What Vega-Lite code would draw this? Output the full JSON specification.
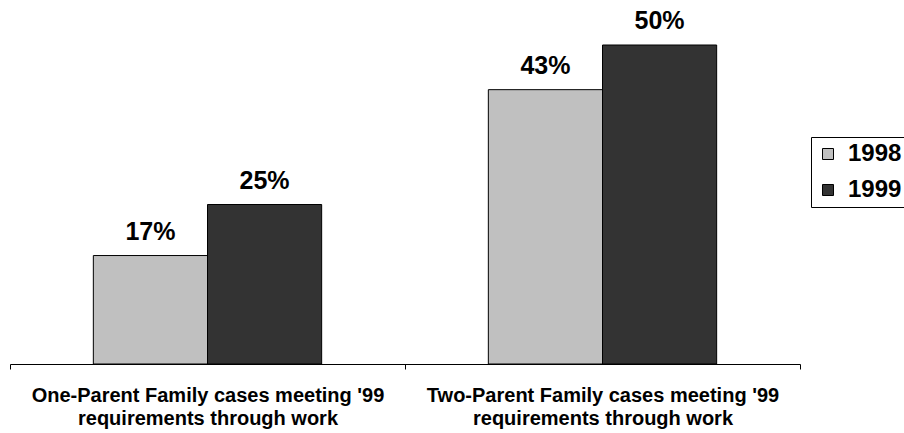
{
  "$schema": "https://vega.github.io/schema/vega-lite/v6.json",
  "autosize": {"type": "none"},
  "width": 790,
  "height": 319,
  "padding": {"left": 10, "top": 45, "right": 104, "bottom": 69},
  "background": "white",
  "config": {
    "view": {"stroke": null},
    "font": "Liberation Sans"
  },
  "data": {
    "values": [
      {"group": "One-Parent", "year": "1998", "value": 0.17},
      {"group": "One-Parent", "year": "1999", "value": 0.25},
      {"group": "Two-Parent", "year": "1998", "value": 0.43},
      {"group": "Two-Parent", "year": "1999", "value": 0.50}
    ]
  },
  "encoding": {
    "x": {
      "field": "group",
      "type": "nominal",
      "scale": {"paddingInner": 0, "paddingOuter": 0},
      "axis": {
        "title": null,
        "labelAngle": 0,
        "domainColor": "black",
        "domainWidth": 1,
        "tickColor": "black",
        "tickSize": 5,
        "tickBand": "extent",
        "labelPadding": 16,
        "labelFontSize": 20,
        "labelFontWeight": "bold",
        "labelColor": "black",
        "labelLineHeight": 23,
        "labelLimit": 0,
        "labelExpr": "(datum.value == null || datum.label == '') ? '' : [datum.label + \" Family cases meeting '99\", \"requirements through work\"]"
      }
    },
    "xOffset": {
      "field": "year",
      "type": "nominal",
      "scale": {"paddingInner": 0, "paddingOuter": 0.73}
    },
    "y": {
      "field": "value",
      "type": "quantitative",
      "scale": {"domain": [0, 0.5], "nice": false},
      "axis": null
    }
  },
  "layer": [
    {
      "mark": {"type": "bar", "stroke": "black", "strokeWidth": 1},
      "encoding": {
        "color": {
          "field": "year",
          "type": "nominal",
          "scale": {"domain": ["1998", "1999"], "range": ["#C0C0C0", "#333333"]},
          "legend": {
            "title": null,
            "orient": "none",
            "legendX": 801,
            "legendY": 92,
            "direction": "vertical",
            "symbolType": "square",
            "symbolSize": 121,
            "symbolStrokeColor": "black",
            "symbolStrokeWidth": 1,
            "symbolOpacity": 1,
            "labelFontSize": 24,
            "labelFontWeight": "bold",
            "labelColor": "black",
            "labelOffset": 8,
            "rowPadding": 12,
            "padding": 5,
            "strokeColor": "black",
            "fillColor": "white"
          }
        }
      }
    },
    {
      "mark": {"type": "text", "baseline": "alphabetic", "dy": -16, "fontSize": 25, "fontWeight": "bold", "color": "black"},
      "encoding": {
        "text": {"field": "value", "type": "quantitative", "format": ".0%"}
      }
    }
  ]
}
